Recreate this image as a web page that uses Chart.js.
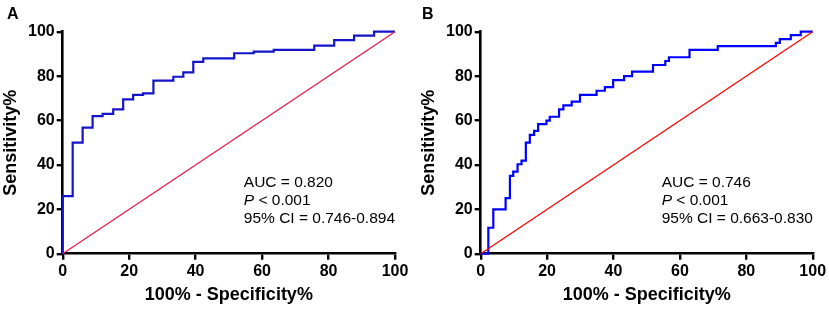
<!DOCTYPE html>
<html>
<head>
<meta charset="utf-8">
<script src="https://cdn.jsdelivr.net/npm/chart.js@4/dist/chart.umd.min.js"></script>
<style>
  html, body { margin: 0; padding: 0; background: #fff; }
  #wrap { position: relative; width: 829px; height: 309px; overflow: hidden; }
  .box { position: absolute; top: 0; height: 309px; }
  #boxA { left: 0; width: 414px; }
  #boxB { left: 414px; width: 415px; }
</style>
</head>
<body>
<div id="wrap">
  <div class="box" id="boxA"><canvas id="cA"></canvas></div>
  <div class="box" id="boxB"><canvas id="cB"></canvas></div>
</div>
<script>
// ---- data (ROC corner points) ----
const tickValues = [0, 20, 40, 60, 80, 100];
const panelLabels = ["A", "B"];
const xTitle = "100% - Specificity%";
const yTitle = "Sensitivity%";

const aFpr = [0, 0, 3, 6, 9, 12, 15.2, 18.2, 21.2, 24.2, 27.3, 33.3, 36.3, 39.3, 42.3, 51.6, 57.5, 63.5, 75.7, 81.7, 87.7, 93.7, 100];
const aTpr = [0, 25.9, 50, 56.8, 62, 63, 65, 69.5, 71.5, 72.2, 78, 79.7, 81.7, 86.4, 88, 90.3, 91, 91.8, 93.7, 96.2, 98.2, 100, 100];

const bFpr = [0, 2.3, 3.8, 7.5, 8.8, 9.8, 11.1, 12.3, 13.6, 14.8, 16.1, 17.3, 19.8, 20.8, 23.6, 24.9, 27.4, 29.9, 34.9, 37.4, 39.9, 43.2, 45.6, 51.9, 55.6, 56.7, 62.9, 71.4, 88.9, 90.1, 93.4, 96.4, 100];
const bTpr = [0, 11.7, 20, 25, 35.1, 37, 40.3, 41.9, 50, 53.5, 55.3, 58.4, 59.9, 61.7, 65, 66.8, 68.5, 71.5, 73.4, 75, 78.2, 80, 82, 85, 86.8, 88.5, 91.8, 93.5, 95, 96.7, 98.5, 100, 100];

const refLine = [0, 100];

const aStats = ["AUC = 0.820", "< 0.001", "95% CI = 0.746-0.894"];
const bStats = ["AUC = 0.746", "< 0.001", "95% CI = 0.663-0.830"];
const statsAnchor = [54.5, 30]; // data-space anchor of the text block

// ---- helpers ----
function pts(xs, ys) { return xs.map((x, i) => ({ x: x, y: ys[i] })); }

const FONT = "'Liberation Sans', Arial, sans-serif";

const textPlugin = {
  id: 'panelText',
  afterDraw(chart, args, opts) {
    const ctx = chart.ctx;
    const xs = chart.scales.x, ys = chart.scales.y;
    ctx.save();
    ctx.fillStyle = '#000';
    ctx.textBaseline = 'alphabetic';
    ctx.textAlign = 'left';
    ctx.font = 'bold 16px ' + FONT;
    ctx.fillText(opts.letter, opts.letterX, 19);
    const x0 = xs.getPixelForValue(statsAnchor[0]);
    const y0 = ys.getPixelForValue(statsAnchor[1]);
    const lh = 18;
    ctx.font = '15.5px ' + FONT;
    ctx.fillText(opts.stats[0], x0, y0);
    ctx.font = 'italic 15.5px ' + FONT;
    ctx.fillText('P', x0, y0 + lh);
    const pw = ctx.measureText('P ').width;
    ctx.font = '15.5px ' + FONT;
    ctx.fillText(opts.stats[1], x0 + pw, y0 + lh);
    ctx.fillText(opts.stats[2], x0, y0 + 2 * lh);
    ctx.restore();
  }
};

function makeChart(id, fpr, tpr, blue, red, cfg) {
  const tickFont = { family: FONT, size: 16, weight: 'bold' };
  const titleFont = { family: FONT, size: 18, weight: 'bold' };
  const axisCommon = {
    type: 'linear', min: 0, max: 100,
    border: { display: true, color: '#000', width: 2.6 },
    grid: { drawOnChartArea: false, drawTicks: true, tickLength: 6, color: '#000', lineWidth: 2.4 },
  };
  return new Chart(document.getElementById(id), {
    type: 'line',
    data: {
      datasets: [
        { data: pts(refLine, refLine), borderColor: red, borderWidth: 1.3, pointRadius: 0, clip: false, tension: 0 },
        { data: pts(fpr, tpr), borderColor: blue, borderWidth: 2.2, pointRadius: 0, stepped: 'before', clip: false }
      ]
    },
    options: {
      responsive: true, maintainAspectRatio: false, animation: false,
      layout: { padding: { top: 31.7, right: cfg.padRight, left: 0, bottom: 0 } },
      plugins: {
        legend: { display: false }, tooltip: { enabled: false },
        panelText: { letter: cfg.letter, letterX: cfg.letterX, stats: cfg.stats }
      },
      scales: {
        x: Object.assign({}, axisCommon, {
          afterBuildTicks(s) { s.ticks = tickValues.map(v => ({ value: v })); },
          afterFit(s) { s.height = 309 - 253.7; },
          ticks: { font: tickFont, color: '#000', padding: 2, maxRotation: 0, autoSkip: false },
          title: { display: true, text: xTitle, font: titleFont, color: '#000', padding: { top: 0, bottom: 3 } }
        }),
        y: Object.assign({}, axisCommon, {
          afterBuildTicks(s) { s.ticks = tickValues.map(v => ({ value: v })); },
          afterFit(s) { s.width = cfg.yWidth; },
          ticks: { font: tickFont, color: '#000', padding: 2, autoSkip: false },
          title: { display: true, text: yTitle, font: titleFont, color: '#000', padding: { top: cfg.yTitlePad, bottom: 0 } }
        })
      }
    },
    plugins: [textPlugin]
  });
}

makeChart('cA', aFpr, aTpr, '#1414c8', '#e8194b',
  { letter: panelLabels[0], letterX: 7, stats: aStats, padRight: 414 - 395, yWidth: 62.7, yTitlePad: 0 });
makeChart('cB', bFpr, bTpr, '#0000ff', '#ff0000',
  { letter: panelLabels[1], letterX: 8, stats: bStats, padRight: 415 - 398.7, yWidth: 66.7, yTitlePad: 4 });
</script>
</body>
</html>
